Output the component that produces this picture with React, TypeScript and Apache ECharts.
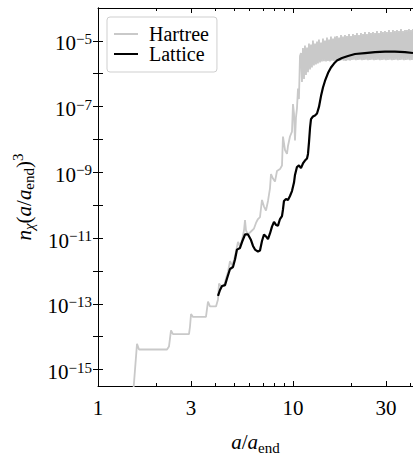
import React, { useEffect, useRef } from "react";
import * as echarts from "echarts";

// Axis ranges (a/a_end, and log10 of n_chi (a/a_end)^3)
const X_MIN = 1;
const X_MAX = 41.26;
const LOGN_MIN = -15.5;
const LOGN_MAX = -4;

const xMajorTicks = [1, 3, 10, 30];
const xMinorTicks = [2, 4, 5, 6, 7, 8, 9, 20, 40];
const yTickExps = [-15, -14, -13, -12, -11, -10, -9, -8, -7, -6, -5];
const yLabelExps = [-15, -13, -11, -9, -7, -5];

// Hartree: a/a_end and log10 of n_chi (a/a_end)^3
const hartreeA = [
  1.512, 1.585, 1.623, 2.259, 2.312, 2.368, 2.424, 2.929, 2.964, 3.0, 3.07, 3.579, 3.622, 3.665, 3.753, 4.029,
  4.125, 4.174, 4.274, 4.429, 4.534, 4.642, 4.753, 4.866, 4.983, 5.102, 5.224, 5.349, 5.477, 5.608, 5.675, 5.742,
  5.879, 6.091, 6.31, 6.461, 6.615, 6.773, 6.935, 7.101, 7.27, 7.444, 7.622, 7.713, 7.897, 8.086, 8.279, 8.577,
  8.782, 8.886, 9.099, 9.316, 9.427, 9.652, 9.883, 10.0, 10.12, 10.24, 10.36, 10.48, 10.61, 10.73, 10.86,
  10.99, 11.12, 11.25, 11.39, 11.52, 11.66, 11.8, 11.94, 12.08, 12.23, 12.37, 12.51, 12.66, 12.81, 12.97, 13.12,
  13.28, 13.43, 13.59, 13.76, 13.92, 14.08, 14.25, 14.42, 14.59, 14.77, 14.94, 15.12, 15.3, 15.48, 15.66, 15.85,
  16.04, 16.23, 16.42, 16.62, 16.81, 17.01, 17.22, 17.42, 17.63, 17.84, 18.05, 18.26, 18.48, 18.7, 18.92, 19.15,
  19.38, 19.6, 19.84, 20.07, 20.31, 20.55, 20.8, 21.04, 21.29, 21.54, 21.8, 22.06, 22.32, 22.59, 22.86, 23.13,
  23.4, 23.68, 23.96, 24.25, 24.54, 24.83, 25.12, 25.42, 25.72, 26.03, 26.34, 26.65, 26.96, 27.29, 27.61, 27.94,
  28.27, 28.61, 28.94, 29.29, 29.64, 29.99, 30.34, 30.71, 31.07, 31.44, 31.81, 32.19, 32.57, 32.96, 33.35, 33.75,
  34.15, 34.55, 34.97, 35.38, 35.8, 36.22, 36.66, 37.09, 37.54, 37.97, 38.43, 38.88, 39.35, 39.81, 40.29, 40.76,
  41.26,
];
const hartreeLogN = [
  -15.79, -14.22, -14.39, -14.39, -14.3, -13.81, -13.92, -13.92, -13.69, -13.31, -13.4, -13.4, -13.16, -12.93, -13.08, -13.08,
  -12.87, -12.38, -12.46, -12.46, -12.23, -12.03, -11.7, -11.82, -11.68, -11.41, -11.12, -11.24, -11.06, -10.77, -10.45, -10.77,
  -10.89, -10.8, -10.71, -10.54, -10.42, -10.36, -9.84, -10.04, -10.16, -9.87, -9.49, -9.05, -9.19, -9.28, -8.96, -8.9,
  -8.79, -7.91, -8.32, -8.44, -8.2, -7.91, -7.76, -6.92, -7.21, -8.03, -7.33, -7.06, -6.45, -6.77, -5.46,
  -5.37, -6.25, -5.22, -6.16, -5.14, -6.04, -5.2, -5.95, -5.08, -5.87, -5.11, -5.81, -4.99, -5.75, -5.08, -5.72,
  -5.02, -5.69, -4.96, -5.66, -5.05, -5.63, -4.93, -5.62, -4.99, -5.63, -4.9, -5.61, -4.96, -5.63, -4.87, -5.6,
  -4.93, -5.61, -4.87, -5.59, -4.85, -5.6, -4.9, -5.61, -4.82, -5.59, -4.87, -5.6, -4.82, -5.61, -4.85, -5.59,
  -4.79, -5.6, -4.85, -5.58, -4.79, -5.57, -4.82, -5.59, -4.76, -5.58, -4.82, -5.57, -4.76, -5.59, -4.79, -5.58,
  -4.73, -5.57, -4.79, -5.59, -4.73, -5.58, -4.76, -5.57, -4.73, -5.59, -4.76, -5.58, -4.7, -5.57, -4.76, -5.59,
  -4.7, -5.58, -4.73, -5.57, -4.7, -5.59, -4.73, -5.58, -4.67, -5.57, -4.73, -5.59, -4.67, -5.58, -4.7, -5.57,
  -4.67, -5.59, -4.7, -5.58, -4.64, -5.57, -4.7, -5.59, -4.67, -5.58, -4.67, -5.57, -4.64, -5.59, -4.67, -5.58,
  -4.64,
];

// Lattice: a/a_end and log10 of n_chi (a/a_end)^3
const latticeA = [
  4.125, 4.224, 4.325, 4.481, 4.588, 4.753, 4.924, 5.042, 5.162, 5.349, 5.477, 5.675, 5.879, 6.091, 6.236, 6.385,
  6.615, 6.773, 6.935, 7.101, 7.27, 7.444, 7.622, 7.804, 7.991, 8.182, 8.378, 8.577, 8.782, 8.886, 8.992, 9.207,
  9.427, 9.652, 9.883, 10.12, 10.24, 10.48, 10.73, 10.99, 11.25, 11.52, 11.8, 11.94, 12.08, 12.23, 12.37, 12.66,
  12.97, 13.28, 13.59, 13.92, 14.25, 14.59, 15.12, 15.66, 16.23, 16.81, 17.84, 19.15, 20.8, 23.4, 26.34, 29.64,
  33.35, 37.54, 41.26,
];
const latticeLogN = [
  -12.76, -12.58, -12.46, -12.43, -12.23, -11.94, -11.88, -11.65, -11.35, -11.3, -11.12, -10.89, -10.89, -11.06, -11.24, -11.35,
  -11.41, -11.38, -11.09, -10.89, -10.95, -11.03, -10.86, -10.65, -10.51, -10.6, -10.62, -10.42, -10.33, -10.13, -9.87, -9.81,
  -9.84, -9.72, -9.57, -9.31, -9.08, -8.84, -8.79, -8.87, -8.73, -8.64, -8.58, -8.44, -8.09, -7.65, -7.38, -7.3,
  -7.27, -7.21, -7.01, -6.68, -6.42, -6.22, -5.98, -5.81, -5.69, -5.6, -5.52, -5.46, -5.4, -5.37, -5.34, -5.33,
  -5.33, -5.34, -5.37,
];

const FONT = "'Liberation Serif', 'DejaVu Serif', serif";
const INK = "#000";
const GRAY = "#c9c9c9";

export default function App() {
  const ref = useRef<HTMLDivElement>(null);

  useEffect(() => {
    if (!ref.current) return;
    const chart = echarts.init(ref.current, undefined, { renderer: "svg" });
    const lg = Math.log10;

    const lineStyle = { color: INK, width: 1 };
    const xBase = {
      type: "value",
      min: lg(X_MIN),
      max: lg(X_MAX),
      gridIndex: 0,
      splitLine: { show: false },
    };
    const majorTick = {
      show: true,
      inside: true,
      length: 5,
      customValues: xMajorTicks.map(lg),
      lineStyle,
    };
    const minorTick = {
      show: true,
      inside: true,
      length: 3,
      customValues: xMinorTicks.map(lg),
      lineStyle,
    };
    const yBase = {
      type: "value",
      min: LOGN_MIN,
      max: LOGN_MAX,
      gridIndex: 0,
      splitLine: { show: false },
      axisTick: { show: true, inside: true, length: 5, customValues: yTickExps, lineStyle },
    };

    const main = { fontFamily: FONT, fontSize: 21, color: INK, lineHeight: 26 };
    const it = { ...main, fontStyle: "italic" };
    const sub = { fontFamily: FONT, fontSize: 15, color: INK, lineHeight: 15, verticalAlign: "bottom" };
    const sup = { fontFamily: FONT, fontSize: 15, color: INK, lineHeight: 15, verticalAlign: "top" };

    const option: any = {
      animation: false,
      grid: { left: 98, right: 0, top: 8, bottom: 58, containLabel: false },
      legend: {
        show: true,
        orient: "vertical",
        left: 107,
        top: 17,
        padding: [7, 8, 8, 7],
        itemWidth: 24,
        itemHeight: 2,
        itemGap: 0,
        icon: "rect",
        backgroundColor: "#fff",
        borderColor: "#cfcfcf",
        borderWidth: 1,
        borderRadius: 3,
        selectedMode: false,
        textStyle: { fontFamily: FONT, fontSize: 20, color: INK, lineHeight: 20, padding: [0, 0, 0, 6] },
        data: [
          { name: "Hartree", itemStyle: { color: GRAY } },
          { name: "Lattice", itemStyle: { color: INK } },
        ],
      },
      xAxis: [
        {
          ...xBase,
          position: "bottom",
          axisLine: { show: true, lineStyle },
          axisTick: majorTick,
          axisLabel: {
            show: true,
            customValues: xMajorTicks.map(lg),
            formatter: (v: number) => String(Math.round(Math.pow(10, v))),
            margin: 11,
            color: INK,
            fontFamily: FONT,
            fontSize: 21,
          },
          name: "{i|a}{r|/}{i|a}{s|end}",
          nameLocation: "middle",
          nameGap: 43,
          nameTextStyle: { rich: { i: it, r: main, s: { ...sub, fontStyle: "normal" } } },
        },
        { ...xBase, position: "bottom", axisLine: { show: false }, axisTick: minorTick, axisLabel: { show: false } },
        { ...xBase, position: "top", axisLine: { show: true, lineStyle }, axisTick: majorTick, axisLabel: { show: false } },
        { ...xBase, position: "top", axisLine: { show: false }, axisTick: minorTick, axisLabel: { show: false } },
      ],
      yAxis: [
        {
          ...yBase,
          position: "left",
          axisLine: { show: true, lineStyle },
          axisLabel: {
            show: true,
            customValues: yLabelExps,
            margin: 6,
            padding: [5, 0, 0, 0],
            formatter: (v: number) => `{b|10}{s|\u2212${Math.round(-v)}}`,
            rich: {
              b: { fontFamily: FONT, fontSize: 21, color: INK, lineHeight: 24 },
              s: { fontFamily: FONT, fontSize: 15, color: INK, lineHeight: 15, verticalAlign: "top" },
            },
          },
          name: "{i|n}{c|\u03c7}{r|(}{i|a}{r|/}{i|a}{s|end}{r|)}{p|3}",
          nameLocation: "middle",
          nameRotate: 90,
          nameGap: 60,
          nameTextStyle: {
            rich: {
              i: it,
              r: main,
              c: { ...sub, fontStyle: "italic" },
              s: sub,
              p: sup,
            },
          },
        },
        {
          ...yBase,
          position: "right",
          axisLine: { show: true, lineStyle },
          axisLabel: { show: false },
        },
      ],
      series: [
        {
          name: "Hartree",
          type: "line",
          xAxisIndex: 0,
          yAxisIndex: 0,
          data: hartreeA.map((a, i) => [lg(a), hartreeLogN[i]]),
          symbol: "none",
          showSymbol: false,
          lineStyle: { color: GRAY, width: 1.8 },
          itemStyle: { color: GRAY },
          z: 2,
          silent: true,
        },
        {
          name: "Lattice",
          type: "line",
          xAxisIndex: 0,
          yAxisIndex: 0,
          data: latticeA.map((a, i) => [lg(a), latticeLogN[i]]),
          symbol: "none",
          showSymbol: false,
          lineStyle: { color: INK, width: 2.2 },
          itemStyle: { color: INK },
          z: 3,
          silent: true,
        },
      ],
    };

    chart.setOption(option);
    return () => chart.dispose();
  }, []);

  return (
    <div
      ref={ref}
      style={{ position: "absolute", left: 0, top: 0, width: 413, height: 460, background: "#fff" }}
    />
  );
}
